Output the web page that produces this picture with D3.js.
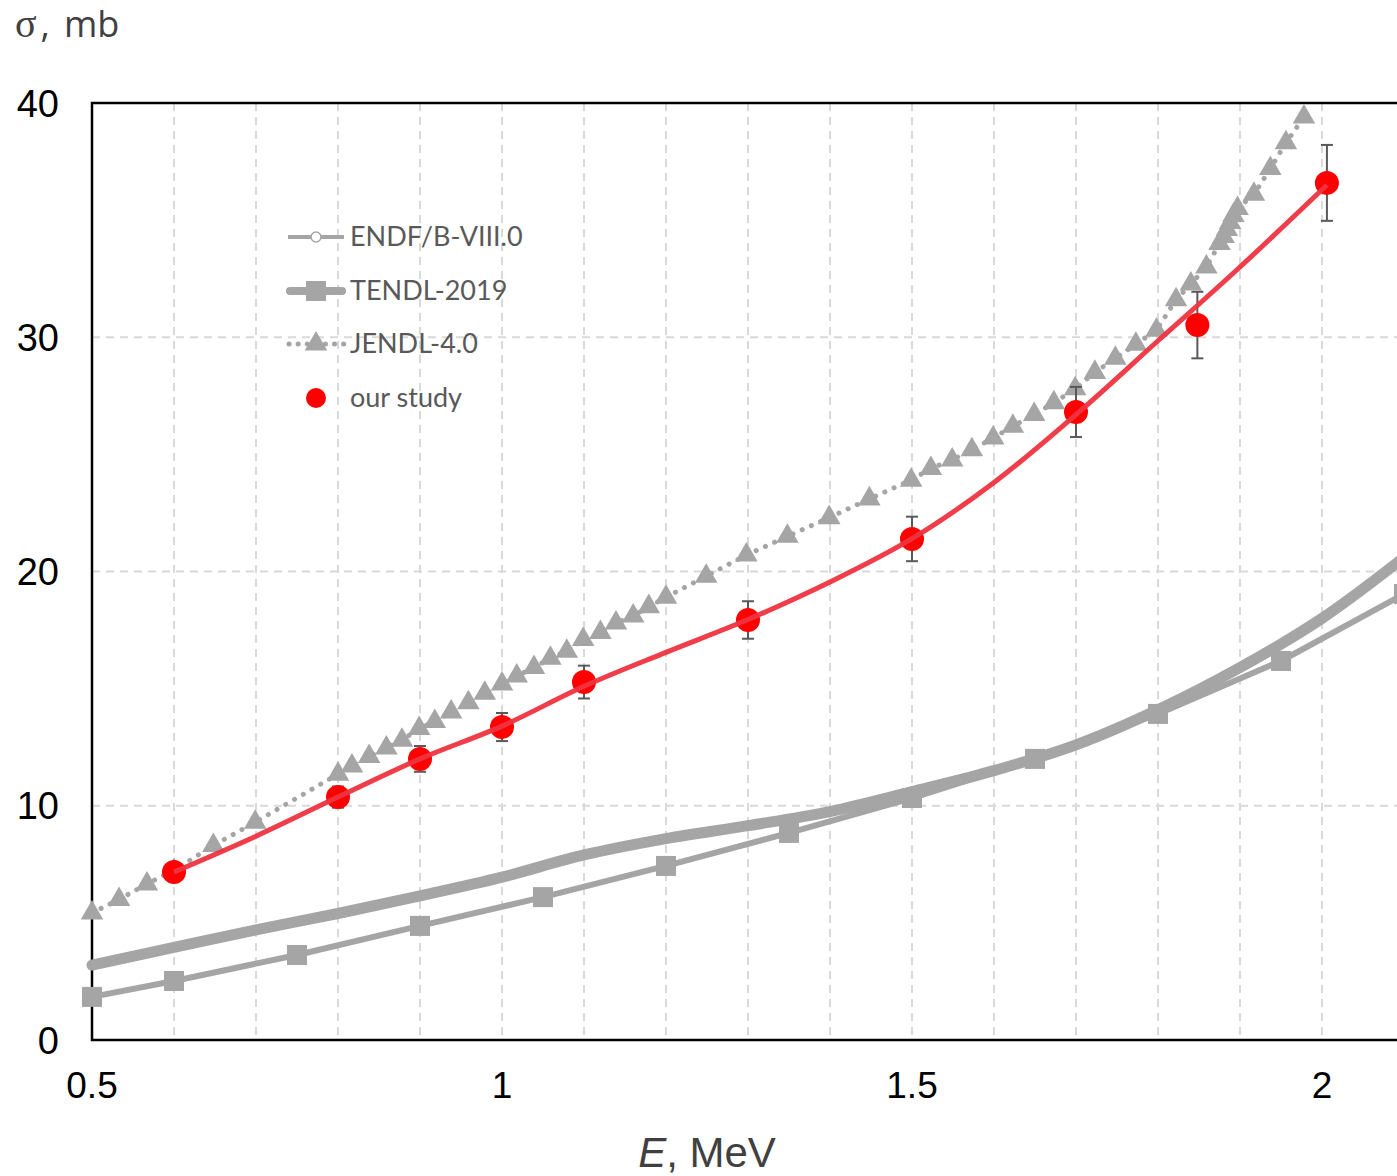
<!DOCTYPE html>
<html>
<head>
<meta charset="utf-8">
<script src="https://cdn.jsdelivr.net/npm/d3@7"></script>
<style>
  body { margin: 0; background: #fff; }
  svg { display: block; }
</style>
</head>
<body>
<div id="chart"></div>
<script>
// energies in MeV, cross sections in mb
const studyE = [0.6, 0.8, 0.9, 1.0, 1.1, 1.3, 1.5, 1.7, 1.848, 2.006];
const studySigma = [7.17, 10.37, 12.0, 13.36, 15.28, 17.93, 21.39, 26.81, 30.52, 36.59];
const studyErr = [0.3, 0.45, 0.55, 0.6, 0.7, 0.8, 0.95, 1.07, 1.42, 1.62];

const fitE = [0.6, 0.7, 0.8, 0.9, 1.0, 1.1, 1.2, 1.3, 1.4, 1.5, 1.6, 1.7, 1.8, 1.9, 2.006];
const fitSigma = [7.17, 8.7, 10.37, 12.0, 13.4, 15.1, 16.55, 17.95, 19.55, 21.4, 23.8, 26.7, 29.85, 33.0, 36.5];

const jendlE = [0.5, 0.533, 0.567, 0.6, 0.648, 0.699, 0.8, 0.817, 0.838, 0.859, 0.878, 0.899, 0.918, 0.938,
  0.959, 0.979, 1.0, 1.018, 1.039, 1.059, 1.079, 1.099, 1.12, 1.139, 1.16, 1.179, 1.2, 1.249, 1.298,
  1.348, 1.399, 1.448, 1.499, 1.523, 1.549, 1.573, 1.599, 1.623, 1.649, 1.673, 1.699, 1.723, 1.748,
  1.773, 1.798, 1.822, 1.84, 1.859, 1.875, 1.88, 1.884, 1.888, 1.892, 1.897, 1.917, 1.937, 1.956, 1.978];
const jendlSigma = [5.42, 6.0, 6.66, 7.25, 8.3, 9.3, 11.35, 11.7, 12.1, 12.47, 12.8, 13.3, 13.6, 14.0,
  14.4, 14.8, 15.2, 15.54, 15.9, 16.3, 16.6, 17.1, 17.4, 17.8, 18.1, 18.5, 18.9, 19.8, 20.7,
  21.5, 22.3, 23.1, 23.9, 24.4, 24.76, 25.2, 25.7, 26.2, 26.7, 27.2, 27.8, 28.5, 29.1,
  29.7, 30.3, 31.6, 32.27, 33.0, 34.0, 34.3, 34.6, 34.9, 35.2, 35.5, 36.1, 37.2, 38.3, 39.4];

const tendlE = [0.5, 0.6, 0.75, 0.9, 1.05, 1.2, 1.35, 1.5, 1.65, 1.8, 1.95, 2.1];
const tendlSigma = [1.84, 2.52, 3.63, 4.87, 6.1, 7.43, 8.84, 10.33, 12.0, 13.92, 16.18, 19.04];

const endfE = [0.5, 0.6, 0.7, 0.8, 0.9, 1.0, 1.1, 1.2, 1.3, 1.4, 1.5, 1.6, 1.7, 1.8, 1.9, 2.0, 2.1];
const endfSigma = [3.2, 3.95, 4.7, 5.4, 6.15, 6.95, 7.9, 8.6, 9.15, 9.75, 10.6, 11.5, 12.6, 14.1, 15.9, 18.0, 20.6];

const xTicks = [0.5, 1, 1.5, 2];
const yTicks = [0, 10, 20, 30, 40];
const legendNames = ["ENDF/B-VIII.0", "TENDL-2019", "JENDL-4.0", "our study"];

const W = 1397, H = 1176;
const plotLeft = 92, plotTop = 103, plotBottom = 1040;
const grey = "#a5a5a5";

const svg = d3.select("#chart").append("svg")
  .attr("width", W)
  .attr("height", H);

const x = d3.scaleLinear().domain([0.5, 2.1]).range([plotLeft, plotLeft + 1.6 * 820]);
const y = d3.scaleLinear().domain([0, 40]).range([plotBottom, plotTop]);

// grid
const vGrid = d3.range(6, 21).map(d => d / 10);
svg.append("g").selectAll("line").data(vGrid).join("line")
  .attr("x1", d => x(d)).attr("x2", d => x(d))
  .attr("y1", plotTop).attr("y2", plotBottom)
  .attr("stroke", "#d9d9d9").attr("stroke-width", 2).attr("stroke-dasharray", "8,6");
svg.append("g").selectAll("line").data([10, 20, 30]).join("line")
  .attr("x1", plotLeft).attr("x2", W)
  .attr("y1", d => y(d)).attr("y2", d => y(d))
  .attr("stroke", "#d9d9d9").attr("stroke-width", 2).attr("stroke-dasharray", "8,6");

// frame
svg.append("path")
  .attr("d", `M${W + 5},${plotTop}H${plotLeft}V${plotBottom}H${W + 5}`)
  .attr("fill", "none").attr("stroke", "#000").attr("stroke-width", 2.5);

// axis labels
svg.append("g").selectAll("text").data(yTicks).join("text")
  .attr("x", 59).attr("y", d => y(d)).attr("dy", "0.36em")
  .attr("text-anchor", "end")
  .attr("font-family", "Liberation Sans, Arial, sans-serif").attr("font-size", 38)
  .text(d => d);
svg.append("g").selectAll("text").data(xTicks).join("text")
  .attr("x", d => x(d)).attr("y", 1098)
  .attr("text-anchor", "middle")
  .attr("font-family", "Liberation Sans, Arial, sans-serif").attr("font-size", 37)
  .text(d => d);

const yl = svg.append("text")
  .attr("x", 15).attr("y", 37)
  .attr("font-family", "Open Sans, sans-serif").attr("font-size", 36).attr("fill", "#404040");
yl.append("tspan").attr("font-family", "Liberation Serif, serif").attr("font-size", 40).text("σ");
yl.append("tspan").attr("dx", 4).text(",");
yl.append("tspan").attr("dx", 14).text("mb");

const xl = svg.append("text")
  .attr("x", 707).attr("y", 1167).attr("text-anchor", "middle")
  .attr("font-family", "Liberation Sans, Arial, sans-serif").attr("font-size", 42).attr("fill", "#404040");
xl.append("tspan").attr("font-style", "italic").text("E");
xl.append("tspan").text(", MeV");

const line = d3.line().x(d => x(d[0])).y(d => y(d[1]));

// ENDF (thick smooth)
svg.append("path")
  .datum(d3.zip(endfE, endfSigma))
  .attr("d", line.curve(d3.curveCatmullRom))
  .attr("fill", "none").attr("stroke", grey).attr("stroke-width", 11).attr("stroke-linecap", "round");

// TENDL with squares
svg.append("path")
  .datum(d3.zip(tendlE, tendlSigma))
  .attr("d", line.curve(d3.curveLinear))
  .attr("fill", "none").attr("stroke", grey).attr("stroke-width", 6);
svg.append("g").selectAll("rect").data(d3.zip(tendlE, tendlSigma)).join("rect")
  .attr("x", d => x(d[0]) - 10).attr("y", d => y(d[1]) - 10)
  .attr("width", 20).attr("height", 20).attr("fill", grey);

// JENDL dotted with triangles
svg.append("path")
  .datum(d3.zip(jendlE, jendlSigma))
  .attr("d", line.curve(d3.curveLinear))
  .attr("fill", "none").attr("stroke", grey).attr("stroke-width", 5)
  .attr("stroke-linecap", "round").attr("stroke-dasharray", "0.1,10");
const tri = d3.symbol().type(d3.symbolTriangle).size(220);
svg.append("g").selectAll("path").data(d3.zip(jendlE, jendlSigma)).join("path")
  .attr("d", tri)
  .attr("transform", d => `translate(${x(d[0])},${y(d[1])})`)
  .attr("fill", grey);

// error bars
const eb = svg.append("g").attr("stroke", "#595959").attr("stroke-width", 2);
studyE.forEach((e, i) => {
  const cx = x(e), y1 = y(studySigma[i] + studyErr[i]), y2 = y(studySigma[i] - studyErr[i]);
  eb.append("line").attr("x1", cx).attr("x2", cx).attr("y1", y1).attr("y2", y2);
  eb.append("line").attr("x1", cx - 6).attr("x2", cx + 6).attr("y1", y1).attr("y2", y1);
  eb.append("line").attr("x1", cx - 6).attr("x2", cx + 6).attr("y1", y2).attr("y2", y2);
});

// our study points
svg.append("g").selectAll("circle").data(d3.zip(studyE, studySigma)).join("circle")
  .attr("cx", d => x(d[0])).attr("cy", d => y(d[1])).attr("r", 12).attr("fill", "#ff0000");

// fit curve
svg.append("path")
  .datum(d3.zip(fitE, fitSigma))
  .attr("d", line.curve(d3.curveCatmullRom))
  .attr("fill", "none").attr("stroke", "#ee3340").attr("stroke-width", 5).attr("opacity", 0.95);

// legend
const lg = svg.append("g").attr("font-family", "Lato, sans-serif").attr("font-size", 27).attr("fill", "#595959");
const rowY = [237, 291, 344, 398];
lg.selectAll("text").data(legendNames).join("text")
  .attr("x", 350).attr("y", (d, i) => rowY[i]).attr("dy", "0.35em")
  .text(d => d);

lg.append("line").attr("x1", 288).attr("x2", 344).attr("y1", rowY[0]).attr("y2", rowY[0])
  .attr("stroke", grey).attr("stroke-width", 4);
lg.append("circle").attr("cx", 316).attr("cy", rowY[0]).attr("r", 5)
  .attr("fill", "#fff").attr("stroke", grey).attr("stroke-width", 1.5);

lg.append("line").attr("x1", 290).attr("x2", 342).attr("y1", rowY[1]).attr("y2", rowY[1])
  .attr("stroke", grey).attr("stroke-width", 8).attr("stroke-linecap", "round");
lg.append("rect").attr("x", 306).attr("y", rowY[1] - 10).attr("width", 20).attr("height", 20).attr("fill", grey);

lg.append("line").attr("x1", 289).attr("x2", 344).attr("y1", rowY[2]).attr("y2", rowY[2])
  .attr("stroke", grey).attr("stroke-width", 5).attr("stroke-linecap", "round").attr("stroke-dasharray", "0.1,9");
lg.append("path").attr("d", tri).attr("transform", `translate(316,${rowY[2]})`).attr("fill", grey);

lg.append("circle").attr("cx", 316).attr("cy", rowY[3]).attr("r", 10).attr("fill", "#ff0000");
</script>
</body>
</html>
